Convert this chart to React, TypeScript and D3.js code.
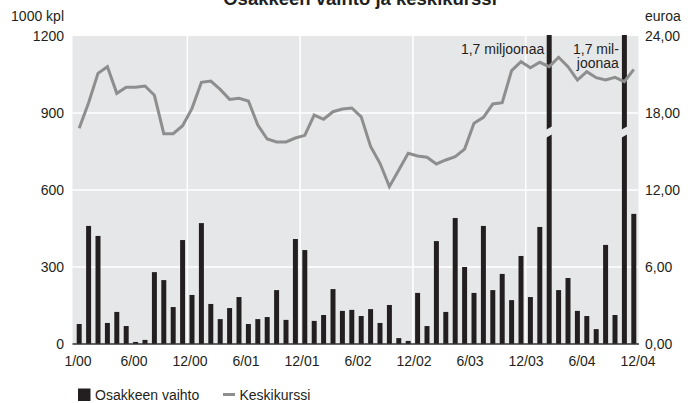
import React from "react";
import * as d3 from "d3";

const months: string[] = Array.from({ length: 60 }, (_, i) => `${(i % 12) + 1}/${String(Math.floor(i / 12)).padStart(2, "0")}`);
const volume: number[] = [
  78, 460, 421, 82, 125, 70, 8, 16, 280, 249, 144, 405,
  191, 471, 156, 97, 140, 183, 78, 97, 105, 210, 94, 409,
  366, 90, 113, 214, 129, 133, 109, 136, 82, 152, 23, 12,
  199, 70, 401, 125, 491, 300, 199, 460, 210, 273, 171, 343,
  183, 456, 1700, 210, 257, 129, 109, 58, 386, 113, 1700, 507,
];
const price: number[] = [
  16.81, 18.8, 21.09, 21.61, 19.53, 20.0, 20.0, 20.1, 19.38, 16.39, 16.39, 17.01,
  18.36, 20.39, 20.49, 19.84, 19.06, 19.14, 18.93, 17.06, 15.97, 15.74, 15.74, 16.05,
  16.26, 17.84, 17.51, 18.1, 18.31, 18.39, 17.7, 15.4, 14.08, 12.26, 13.56, 14.86,
  14.65, 14.55, 14.03, 14.34, 14.6, 15.19, 17.2, 17.66, 18.7, 18.8, 21.3, 22.0,
  21.53, 21.95, 21.61, 22.34, 21.61, 20.57, 21.22, 20.75, 20.57, 20.78, 20.44, 21.4,
];
const xTickLabels: string[] = ["1/00", "6/00", "12/00", "6/01", "12/01", "6/02", "12/02", "6/03", "12/03", "6/04", "12/04"];
const leftTicks: number[] = [0, 300, 600, 900, 1200];
const rightTicks: number[] = [0, 6, 12, 18, 24];
const yearStarts: string[] = ["1/01", "1/02", "1/03", "1/04"];

const W = 699, H = 403;
const plotL = 72.5, plotR = 638.5, plotT = 36, plotB = 344;
const FONT = "'Liberation Sans', Arial, sans-serif";
const TXT = "#231f20";
const BAR = "#231f20";
const BG = "#e6e7e9";
const LINE = "#8e8e8e";

export default function App() {
  const x = d3.scaleBand<string>().domain(months).range([74.5, plotR]).paddingInner(0.47).paddingOuter(0.235);
  const yL = d3.scaleLinear().domain([0, 1200]).range([plotB, plotT]);
  const yR = d3.scaleLinear().domain([0, 24]).range([plotB, plotT]);
  const xLab = d3.scalePoint<string>().domain(xTickLabels).range([78, 638]);
  const step = x.step();
  const bw = x.bandwidth();

  const line = d3
    .line<number>()
    .x((_, i) => (x(months[i]) as number) + bw / 2)
    .y((d) => yR(d));

  const fmt = (v: number) => v.toFixed(2).replace(".", ",");

  const x50 = x(months[50]) as number;
  const x58 = x(months[58]) as number;
  const breakY = yL(840);

  return (
    <svg width={W} height={H} style={{ position: "absolute", left: 0, top: 0 }} fontFamily={FONT}>
      <rect x={0} y={0} width={W} height={H} fill="#ffffff" />
      <text x={360} y={5} textAnchor="middle" fontSize={18.5} fontWeight="bold" fill={TXT}>
        Osakkeen vaihto ja keskikurssi
      </text>
      <rect x={plotL} y={plotT} width={plotR - plotL} height={plotB - plotT} fill={BG} />
      {leftTicks.slice(1, -1).map((t) => (
        <line key={t} x1={plotL} x2={plotR} y1={yL(t)} y2={yL(t)} stroke="#fff" strokeWidth={1.5} />
      ))}
      {yearStarts.map((m) => {
        const gx = (x(m) as number) - (step - bw) / 2;
        return <line key={m} x1={gx} x2={gx} y1={plotT} y2={plotB} stroke="#fff" strokeWidth={1.5} />;
      })}
      {volume.map((v, i) => {
        const bx = x(months[i]) as number;
        const top = yL(Math.min(v, 1200)) - (v > 1200 ? 1 : 0);
        return <rect key={i} x={bx} y={top} width={bw} height={plotB - top} fill={BAR} />;
      })}
      {volume.map((v, i) => {
        if (v <= 1200) return null;
        const bx = x(months[i]) as number;
        const pts = [
          [bx - 1, breakY + 1.5],
          [bx + bw + 1, breakY - 2.5],
          [bx + bw + 1, breakY + 5.5],
          [bx - 1, breakY + 9.5],
        ];
        return <polygon key={"b" + i} points={pts.map((p) => p.join(",")).join(" ")} fill={BG} />;
      })}
      <line x1={plotL} x2={plotR + 0.5} y1={plotB} y2={plotB} stroke="#333" strokeWidth={1.6} />
      <path d={line(price) || ""} fill="none" stroke={LINE} strokeWidth={3} />
      <text x={x50 - 2.5} y={53.5} textAnchor="end" fontSize={14} fill={TXT}>1,7 miljoonaa</text>
      <text x={x58 - 3} y={53.5} textAnchor="end" fontSize={14} fill={TXT}>1,7 mil-</text>
      <text x={x58 - 3} y={67.5} textAnchor="end" fontSize={14} fill={TXT}>joonaa</text>
      <text x={64} y={21} textAnchor="end" fontSize={14} fill={TXT}>1000 kpl</text>
      {leftTicks.map((t) => (
        <text key={t} x={64} y={yL(t) + 5} textAnchor="end" fontSize={14} fill={TXT}>{t}</text>
      ))}
      <text x={645} y={21} textAnchor="start" fontSize={14} fill={TXT}>euroa</text>
      {rightTicks.map((t) => (
        <text key={t} x={645} y={yR(t) + 5} textAnchor="start" fontSize={14} fill={TXT}>{fmt(t)}</text>
      ))}
      {xTickLabels.map((l) => (
        <text key={l} x={xLab(l) as number} y={366} textAnchor="middle" fontSize={14} fill={TXT}>{l}</text>
      ))}
      <rect x={78} y={388.5} width={12.5} height={12.5} fill={BAR} />
      <text x={95} y={400} fontSize={14} fill={TXT}>Osakkeen vaihto</text>
      <line x1={223} x2={235} y1={394.5} y2={394.5} stroke={LINE} strokeWidth={3} />
      <text x={239.5} y={400} fontSize={14} fill={TXT}>Keskikurssi</text>
    </svg>
  );
}
